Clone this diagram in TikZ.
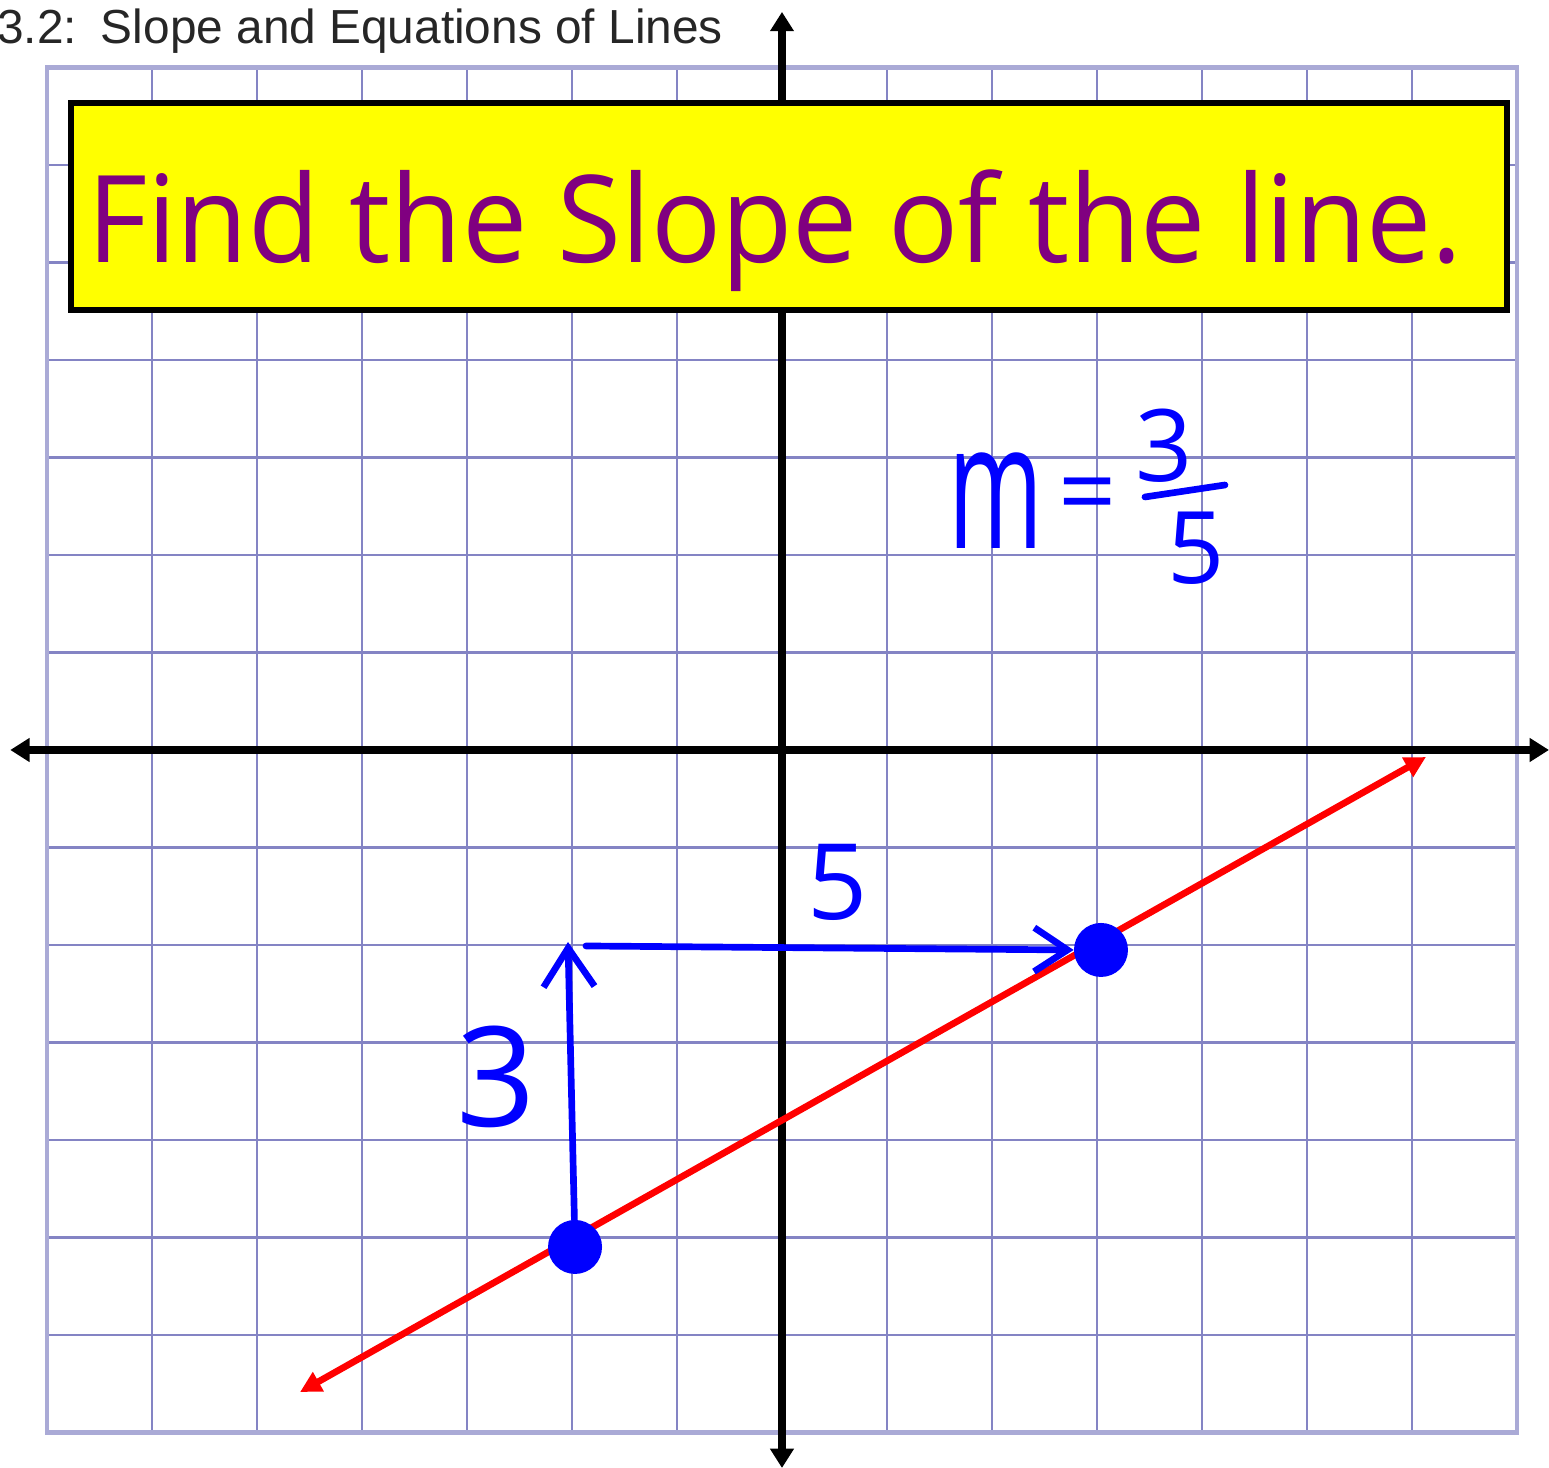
\documentclass[tikz,border=0pt]{standalone}
\usepackage{fontspec}
\usepackage{graphicx}
\setmainfont{Liberation Sans}
\newfontfamily\boardfont[FakeStretch=0.96]{Open Sans}
\newfontfamily\penfont{Open Sans}
\usetikzlibrary{arrows.meta,positioning}
\definecolor{ink}{HTML}{262626}
\definecolor{gridline}{HTML}{8484C4}
\definecolor{gridedge}{HTML}{AAAAD6}
\definecolor{boardfill}{HTML}{FFFF00}
\definecolor{boardink}{HTML}{800080}
\definecolor{penblue}{HTML}{0000FF}
\definecolor{penred}{HTML}{FF0000}
\newcommand{\handsize}[1]{\fontsize{#1}{#1}\selectfont}
\tikzset{
 grid line/.style={draw=gridline,line width=1.6pt},
 grid edge/.style={draw=gridedge,line width=2.8pt},
 axis/.style={draw=black,line width=4.2pt,{Triangle[length=11pt,width=13pt]}-{Triangle[length=11pt,width=13pt]}},
 board/.style={draw=black,fill=boardfill,line width=3.6pt,inner sep=0pt,minimum width=28.72cm,minimum height=4.14cm},
 prompt/.style={font=\boardfont\handsize{69},text=boardink,inner sep=0pt},
 heading/.style={font=\handsize{27.2},text=ink,inner sep=0pt},
 slopeline/.style={draw=penred,line width=3.8pt,{Triangle[length=12pt,width=12pt]}-{Triangle[length=12pt,width=12pt]}},
 dot/.style={circle,fill=penblue,inner sep=0pt,minimum size=1.08cm},
 pen/.style={draw=penblue,line width=3.8pt,line cap=round,line join=round},
 rise/.style={pen,-{Straight Barb[length=22pt,width=29pt]}},
 run/.style={pen,-{Straight Barb[length=19pt,width=25pt]}},
 hand/.style={font=\penfont\handsize{#1},text=penblue,inner sep=0pt},
}

\begin{document}
\begin{tikzpicture}[x=2.1cm,y=1.95cm]

\useasboundingbox (-7.4476,-7.3641) rectangle (7.3048,7.6923);
% grid paper
\foreach \i in {-6,...,6} {
 \draw[grid line] (\i,-7) -- (\i,7);
 \draw[grid line] (-7,\i) -- (7,\i);
}
\draw[grid edge] (-7,-7) rectangle (7,7);
\draw[axis] (-7.35,0) -- (7.3048,0);
\draw[axis] (0,-7.3641) -- (0,7.57);
\node[heading,anchor=base west] (chapter) at (-7.476,7.251) {3.2:\hspace{.5em}Slope and Equations of Lines};
\node[board] (banner) at (0.067,5.574) {};
\node[prompt,anchor=base] (task) at (-0.067,5.005) {Find the Slope of the line.};
% the line and its two points
\coordinate (low) at (-4.590,-6.585);
\coordinate (high) at (6.133,-0.072);
\draw[slopeline] (low) -- (high);
\node[dot] (first) at (-1.971,-5.097) {};
\node[dot] (second) at (3.038,-2.051) {};
\coordinate (risetop) at (-2.038,-1.969);
\coordinate (corner) at (-1.867,-2.010);
\draw[rise] (first) -- (risetop);
\draw[run] (corner) -- (second.west);
\node[hand=60] (runlabel) at (0.533,-1.354) {5};
\node[hand=79] (riselabel) at (-2.724,-3.354) {3};
% slope written in pen
\node[hand=100] (slope) at (2.038,2.554) {\scalebox{.58}[1]{m}};
\node[hand=58] (equals) at (2.914,2.533) {=};
\node[hand=57] (numer) at (3.638,3.118) {3};
\node[hand=57] (denom) at (3.943,2.072) {5};
\draw[pen] (3.457,2.595) -- (4.219,2.718);

\end{tikzpicture}
\end{document}
